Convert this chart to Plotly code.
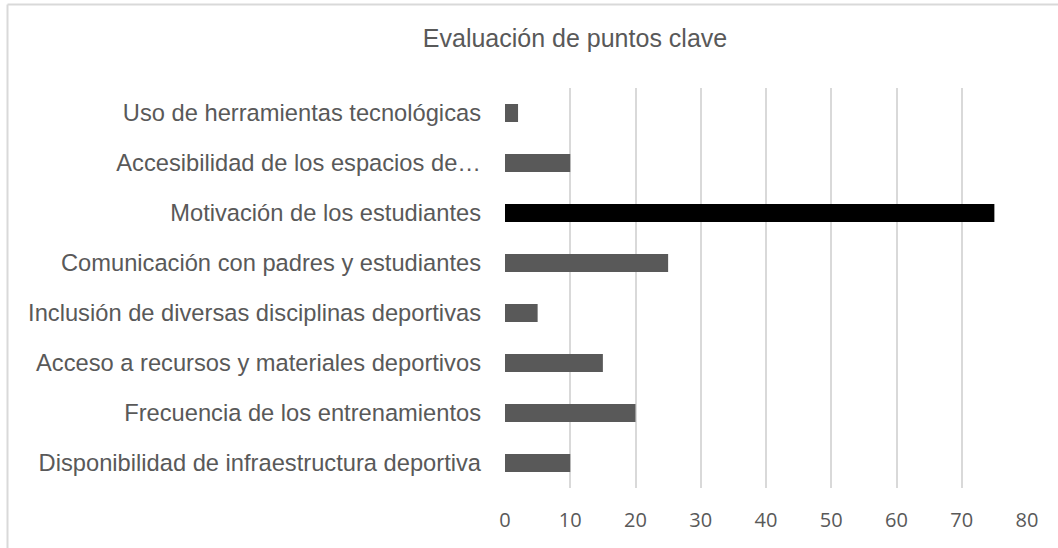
import plotly.graph_objects as go

categories = [
    "Disponibilidad de infraestructura deportiva",
    "Frecuencia de los entrenamientos",
    "Acceso a recursos y materiales deportivos",
    "Inclusión de diversas disciplinas deportivas",
    "Comunicación con padres y estudiantes",
    "Motivación de los estudiantes",
    "Accesibilidad de los espacios de…",
    "Uso de herramientas tecnológicas",
]
values = [10, 20, 15, 5, 25, 75, 10, 2]
bar_colors = ["#595959", "#595959", "#595959", "#595959", "#595959", "#000000", "#595959", "#595959"]
x_ticks = [0, 10, 20, 30, 40, 50, 60, 70, 80]
title_text = "Evaluación de puntos clave"

W, H = 1058, 548
L, R, T, B = 505, 31, 88, 60
pw, ph = W - L - R, H - T - B

fig = go.Figure(go.Bar(
    y=categories, x=values, orientation="h",
    marker=dict(color=bar_colors, line=dict(width=0)),
    hoverinfo="x+y",
))

fig.update_layout(
    width=W, height=H,
    margin=dict(l=L, r=R, t=T, b=B, pad=0),
    paper_bgcolor="white", plot_bgcolor="white",
    bargap=0.64,
    showlegend=False,
    title=dict(text=title_text, x=575 / W, xanchor="center", y=1 - 38 / H, yanchor="middle",
               font=dict(family="Liberation Sans, Arial, sans-serif", size=25, color="#595959")),
    xaxis=dict(range=[0, 80], tickvals=x_ticks, showgrid=True, gridcolor="#d9d9d9", gridwidth=1.5,
               zeroline=False, showline=False, ticks="",
               tickfont=dict(family="Open Sans, sans-serif", size=20, color="#595959"),
               ticklabelstandoff=18, fixedrange=True),
    yaxis=dict(showgrid=False, zeroline=False, showline=False, ticks="",
               categoryorder="array", categoryarray=categories,
               tickfont=dict(family="Liberation Sans, Arial, sans-serif", size=23.7, color="#595959"),
               ticklabelstandoff=23, fixedrange=True),
    shapes=[
        dict(type="line", xref="paper", yref="paper",
             x0=(7.5 - L) / pw, x1=(7.5 - L) / pw, y0=(H - B - 4.5) / ph, y1=-1,
             line=dict(color="#d9d9d9", width=2)),
        dict(type="line", xref="paper", yref="paper",
             x0=(7.5 - L) / pw, x1=2, y0=(H - B - 4.5) / ph, y1=(H - B - 4.5) / ph,
             line=dict(color="#d9d9d9", width=2)),
    ],
)

fig.write_html("out.html", config={"displayModeBar": False},
               post_script="document.body.style.margin='0';")
